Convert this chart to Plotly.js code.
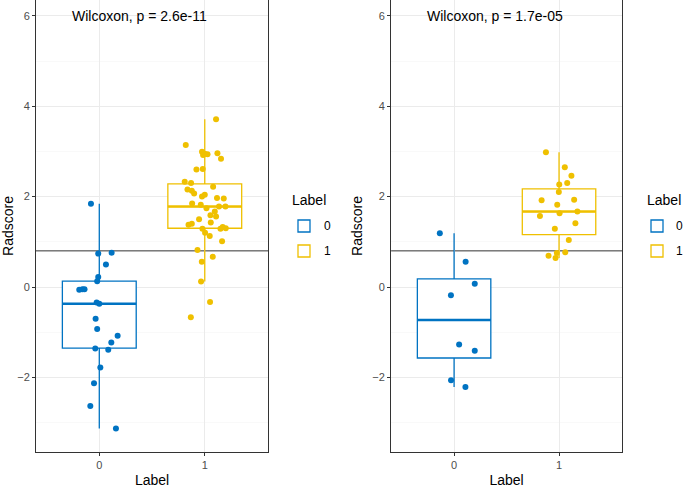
<!DOCTYPE html>
<html><head><meta charset="utf-8">
<script src="https://cdn.plot.ly/plotly-3.0.1.min.js"></script>
<style>html,body{margin:0;padding:0;background:#fff}#chart{width:685px;height:488px}</style>
</head><body><div id="chart"></div>
<script>
// ---- data ----
const groups = ["0", "1"];
const groupPos = [0, 1];
const colors = ["#0073C2", "#EFC000"];

// Left panel raw points (value, horizontal jitter in category units)
const left0_y = [1.84,0.74,0.76,0.50,0.22,0.13,-0.06,-0.05,-0.05,-0.34,-0.37,-0.70,-0.93,-1.08,-1.23,-1.36,-1.39,-1.78,-2.13,-2.63,-3.13];
const left0_j = [-0.079,-0.01,0.117,0.063,-0.01,-0.02,-0.19,-0.16,-0.14,-0.025,0.0,-0.035,-0.02,0.174,0.114,-0.038,0.085,0.01,-0.05,-0.085,0.158];
const left1_y = [3.71,3.14,2.99,2.92,2.95,2.94,2.96,2.84,2.60,2.61,2.33,2.30,2.22,2.16,2.13,2.07,2.00,2.04,1.97,1.96,1.85,1.82,1.74,1.78,1.78,1.67,1.59,1.56,1.50,1.38,1.40,1.43,1.29,1.20,1.13,1.29,1.33,1.30,1.01,0.82,0.56,0.67,0.12,-0.33,-0.67];
const left1_j = [0.107,-0.18,-0.026,-0.016,0,0.026,0.12,0.154,-0.079,-0.019,-0.19,-0.13,0.079,-0.164,-0.123,-0.101,-0.026,0,0.116,0.18,-0.12,-0.038,0.016,0.135,0.196,0.095,0.054,0.107,-0.054,-0.154,-0.123,0.057,-0.022,0.003,0.047,0.149,0.17,0.199,0.164,-0.069,-0.028,0.076,-0.035,0.05,-0.132];
// Right panel raw points
const right0_y = [1.19,0.56,0.07,-0.18,-1.27,-1.41,-2.06,-2.21];
const right0_j = [-0.136,0.11,0.197,-0.03,0.048,0.197,-0.029,0.108];
const right1_y = [2.98,2.65,2.46,2.30,2.27,2.10,1.92,1.93,1.82,1.67,1.63,1.57,1.41,1.29,1.04,0.77,0.75,0.69,0.64];
const right1_j = [-0.125,0.055,0.118,0.078,0.002,-0.002,-0.166,0.144,-0.017,0.175,0.005,-0.182,0.156,-0.04,0.093,0.059,-0.021,-0.1,-0.033];

// Box statistics (ggplot boxes) [group0, group1]
const left_q1 = [-1.35, 1.30], left_med = [-0.37, 1.78], left_q3 = [0.13, 2.28];
const left_lf = [-3.13, 0.12], left_uf = [1.84, 3.71];
const right_q1 = [-1.57, 1.16], right_med = [-0.73, 1.67], right_q3 = [0.18, 2.17];
const right_lf = [-2.21, 0.64], right_uf = [1.19, 2.98];

const cutoff = 0.8;
const pLabels = ["Wilcoxon, p = 2.6e-11", "Wilcoxon, p = 1.7e-05"];
const yTicks = [-2, 0, 2, 4, 6];
const legendTitle = "Label";

// ---- build ----
const FONT = "Liberation Sans, Arial, sans-serif";
const BOXW = 0.7;
const traces = [];
function panel(xa, ya, legs, q1, med, q3, lf, uf, pts) {
  for (let g = 0; g < 2; g++) {
    traces.push({
      type: "box", x: [groupPos[g]], q1: [q1[g]], median: [med[g]], q3: [q3[g]],
      lowerfence: [lf[g]], upperfence: [uf[g]], width: BOXW, whiskerwidth: 0,
      fillcolor: "#ffffff", line: {color: colors[g], width: 1.3},
      boxpoints: false, name: " ", xaxis: xa, yaxis: ya,
      legend: legs[g], showlegend: true, hoverinfo: "skip"
    });
    traces.push({
      type: "scatter", mode: "lines",
      x: [groupPos[g] - BOXW / 2, groupPos[g] + BOXW / 2], y: [med[g], med[g]],
      line: {color: colors[g], width: 2.6}, xaxis: xa, yaxis: ya, showlegend: false, hoverinfo: "skip"
    });
  }
  for (let g = 0; g < 2; g++) {
    const ys = pts[g][0], js = pts[g][1];
    traces.push({
      type: "scatter", mode: "markers",
      x: js.map(j => groupPos[g] + j), y: ys,
      marker: {color: colors[g], size: 6},
      xaxis: xa, yaxis: ya, showlegend: false, hoverinfo: "skip"
    });
  }
}
panel("x", "y", ["legend", "legend3"], left_q1, left_med, left_q3, left_lf, left_uf, [[left0_y, left0_j], [left1_y, left1_j]]);
panel("x2", "y2", ["legend2", "legend4"], right_q1, right_med, right_q3, right_lf, right_uf, [[right0_y, right0_j], [right1_y, right1_j]]);

function xax(dom) {
  return {
    domain: dom, range: [-0.6, 1.6], tickvals: groupPos, ticktext: groups,
    showgrid: true, gridcolor: "#ebebeb", gridwidth: 1, zeroline: false,
    showline: true, mirror: true, linecolor: "#333333", linewidth: 1,
    ticks: "outside", ticklen: 3, tickcolor: "#333333",
    tickfont: {family: FONT, size: 11, color: "#4d4d4d"},
    title: {text: "Label", font: {family: FONT, size: 14, color: "#000"}, standoff: 4}
  };
}
function yax(anchor) {
  return {
    anchor: anchor, range: [-3.65, 6.35], tickvals: yTicks,
    showgrid: true, gridcolor: "#ebebeb", gridwidth: 1, zeroline: false,
    minor: {dtick: 1, tick0: 1, showgrid: true, gridcolor: "#f5f5f5", gridwidth: 0.6, ticks: ""},
    showline: true, mirror: true, linecolor: "#333333", linewidth: 1,
    ticks: "outside", ticklen: 3, tickcolor: "#333333",
    tickfont: {family: FONT, size: 11, color: "#4d4d4d"},
    title: {text: "Radscore", font: {family: FONT, size: 14, color: "#000"}, standoff: 6}
  };
}
const legStyle = (x, y) => ({
  x: x, y: y, xanchor: "left", yanchor: "middle", bgcolor: "rgba(0,0,0,0)",
  font: {family: FONT, size: 12, color: "#000"}, tracegroupgap: 0
});
const LX = [0.4232, 1.0256];   // legend symbol column, paper x (left / right panel)
const HX = [0.4329, 1.0387];   // legend title column
const TX = [0.4881, 1.0887];   // legend label column
const LY = [0.5, 0.4447];      // item rows
const TY = 0.5575;             // legend title row
const annFont = (s) => ({family: FONT, size: s, color: "#000"});
const annotations = [
  {xref: "x", yref: "y", x: -0.28, y: 6, xanchor: "left", yanchor: "middle", text: pLabels[0], showarrow: false, font: annFont(14)},
  {xref: "x2", yref: "y2", x: -0.28, y: 6, xanchor: "left", yanchor: "middle", text: pLabels[1], showarrow: false, font: annFont(14)}
];
for (let p = 0; p < 2; p++) {
  annotations.push({xref: "paper", yref: "paper", x: HX[p], y: TY, xanchor: "left", yanchor: "middle", text: legendTitle, showarrow: false, font: annFont(14)});
  for (let g = 0; g < 2; g++) {
    annotations.push({xref: "paper", yref: "paper", x: TX[p], y: LY[g], xanchor: "left", yanchor: "middle", text: groups[g], showarrow: false, font: annFont(12)});
  }
}
const layout = {
  width: 685, height: 488, paper_bgcolor: "#fff", plot_bgcolor: "#fff",
  margin: {l: 36, r: 63, t: 0, b: 36, autoexpand: false},
  font: {family: FONT},
  xaxis: Object.assign(xax([0, 0.396]), {anchor: "y"}),
  yaxis: yax("x"),
  xaxis2: Object.assign(xax([0.606, 1]), {anchor: "y2"}),
  yaxis2: yax("x2"),
  legend: legStyle(LX[0], LY[0]),
  legend3: legStyle(LX[0], LY[1]),
  legend2: legStyle(LX[1], LY[0]),
  legend4: legStyle(LX[1], LY[1]),
  shapes: [
    {type: "line", xref: "x domain", yref: "y", x0: 0, x1: 1, y0: cutoff, y1: cutoff, line: {color: "#333333", width: 1}, layer: "below"},
    {type: "line", xref: "x2 domain", yref: "y2", x0: 0, x1: 1, y0: cutoff, y1: cutoff, line: {color: "#333333", width: 1}, layer: "below"}
  ],
  annotations: annotations
};
Plotly.newPlot("chart", traces, layout, {displayModeBar: false, staticPlot: true});
</script></body></html>
